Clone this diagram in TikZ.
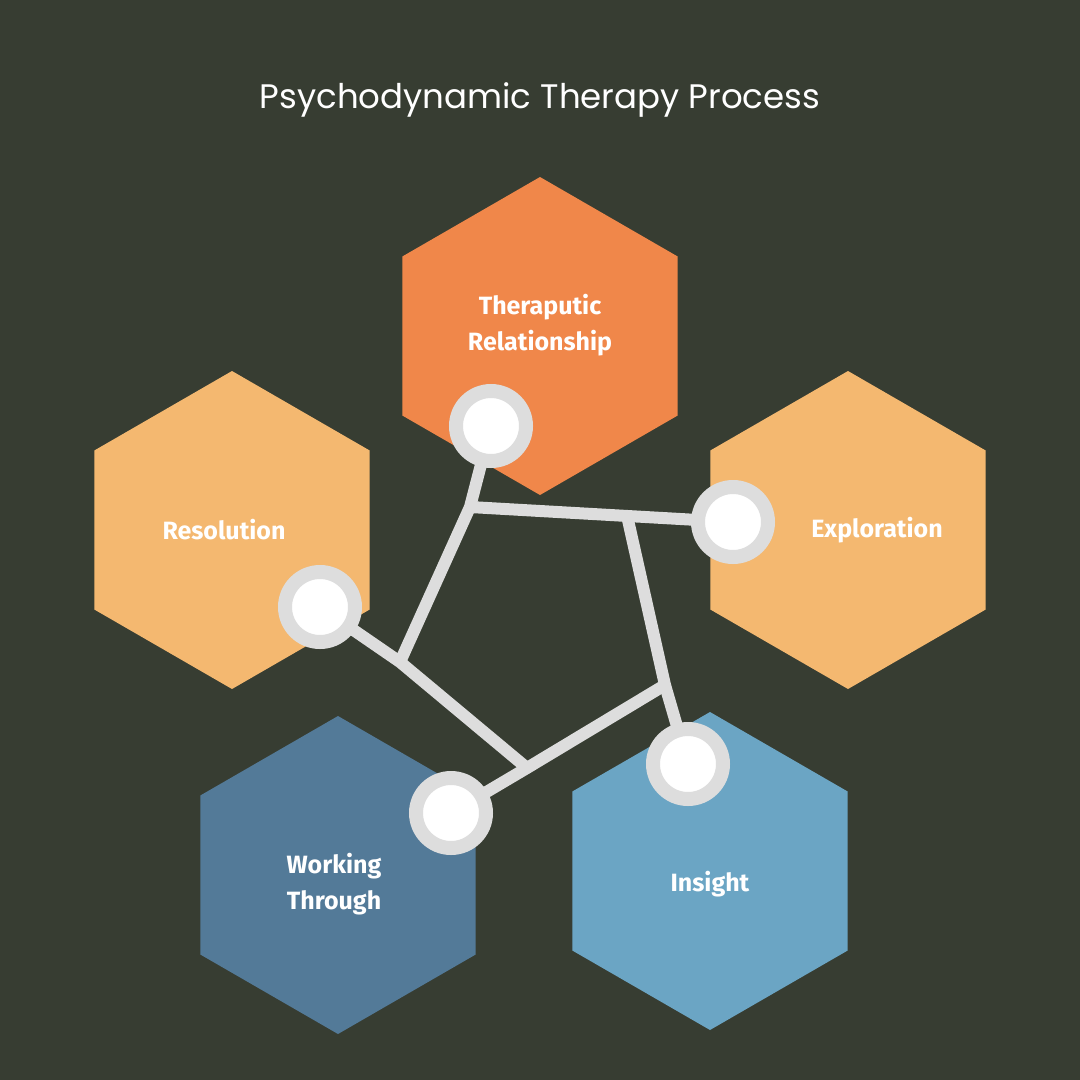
\documentclass[tikz,border=0pt]{standalone}
\usepackage{fontspec}
\setmainfont{Poppins}
\newfontfamily\hexfont{Fira Sans}
\usetikzlibrary{shapes.geometric,positioning}
\definecolor{bgc}{HTML}{373D32}
\definecolor{orangec}{HTML}{F0874A}
\definecolor{sandc}{HTML}{F4B870}
\definecolor{steelc}{HTML}{537A98}
\definecolor{skyc}{HTML}{6BA5C4}
\definecolor{linkc}{HTML}{DDDDDD}
\tikzset{
  hex/.style={regular polygon, regular polygon sides=6, shape border rotate=30,
    minimum size=318pt, inner sep=0pt, draw=none, fill=#1},
  lbl/.style={text=white, align=center, font=\hexfont\bfseries\fontsize{25}{50}\selectfont},
  link/.style={draw=linkc, line width=12pt},
  knob/.style={circle, minimum size=70pt, fill=white, draw=linkc, line width=14pt, inner sep=0pt}
}
\begin{document}
\begin{tikzpicture}[x=1pt,y=-1pt]
  \fill[bgc] (0,0) rectangle (1080,1080);
  \useasboundingbox (0,0) rectangle (1080,1080);
  \node[text=white, font=\fontsize{34}{40}\selectfont] (title) at (540,100) {Psychodynamic Therapy Process};
  % hexagons
  \node[hex=orangec] (rel) at (540,336) {};
  \node[hex=sandc] (exp) at (848,530) {};
  \node[hex=sandc] (res) at (232,530) {};
  \node[hex=steelc] (wor) at (338,875) {};
  \node[hex=skyc] (ins) at (710,871) {};
  \node[lbl] (relt) at (540,325) {Theraputic\\[-14pt]Relationship};
  \node[lbl] (expt) at (877,530) {Exploration};
  \node[lbl] (rest) at (224,530) {Resolution};
  \node[lbl] (wort) at (334,884) {Working\\[-14pt]Through};
  \node[lbl] (inst) at (710,884) {Insight};
  % pentagon corners
  \coordinate (pa) at (470,507);
  \coordinate (pb) at (628,520);
  \coordinate (pc) at (665,685);
  \coordinate (pd) at (527,768);
  \coordinate (pe) at (400,662);
  \coordinate (kr) at (491,426);
  \coordinate (ke) at (733,522);
  \coordinate (ki) at (688,764);
  \coordinate (kw) at (451,813);
  \coordinate (ks) at (320,607);
  \draw[link] (pe) -- (pa) -- (kr);
  \draw[link] (pa) -- (ke);
  \draw[link] (pb) -- (pc) -- (ki);
  \draw[link] (pc) -- (pd) -- (kw);
  \draw[link] (pd) -- (pe) -- (ks);
  \foreach \k in {kr,ke,ki,kw,ks}
    \node[knob] (\k-n) at (\k) {};
\end{tikzpicture}
\end{document}
